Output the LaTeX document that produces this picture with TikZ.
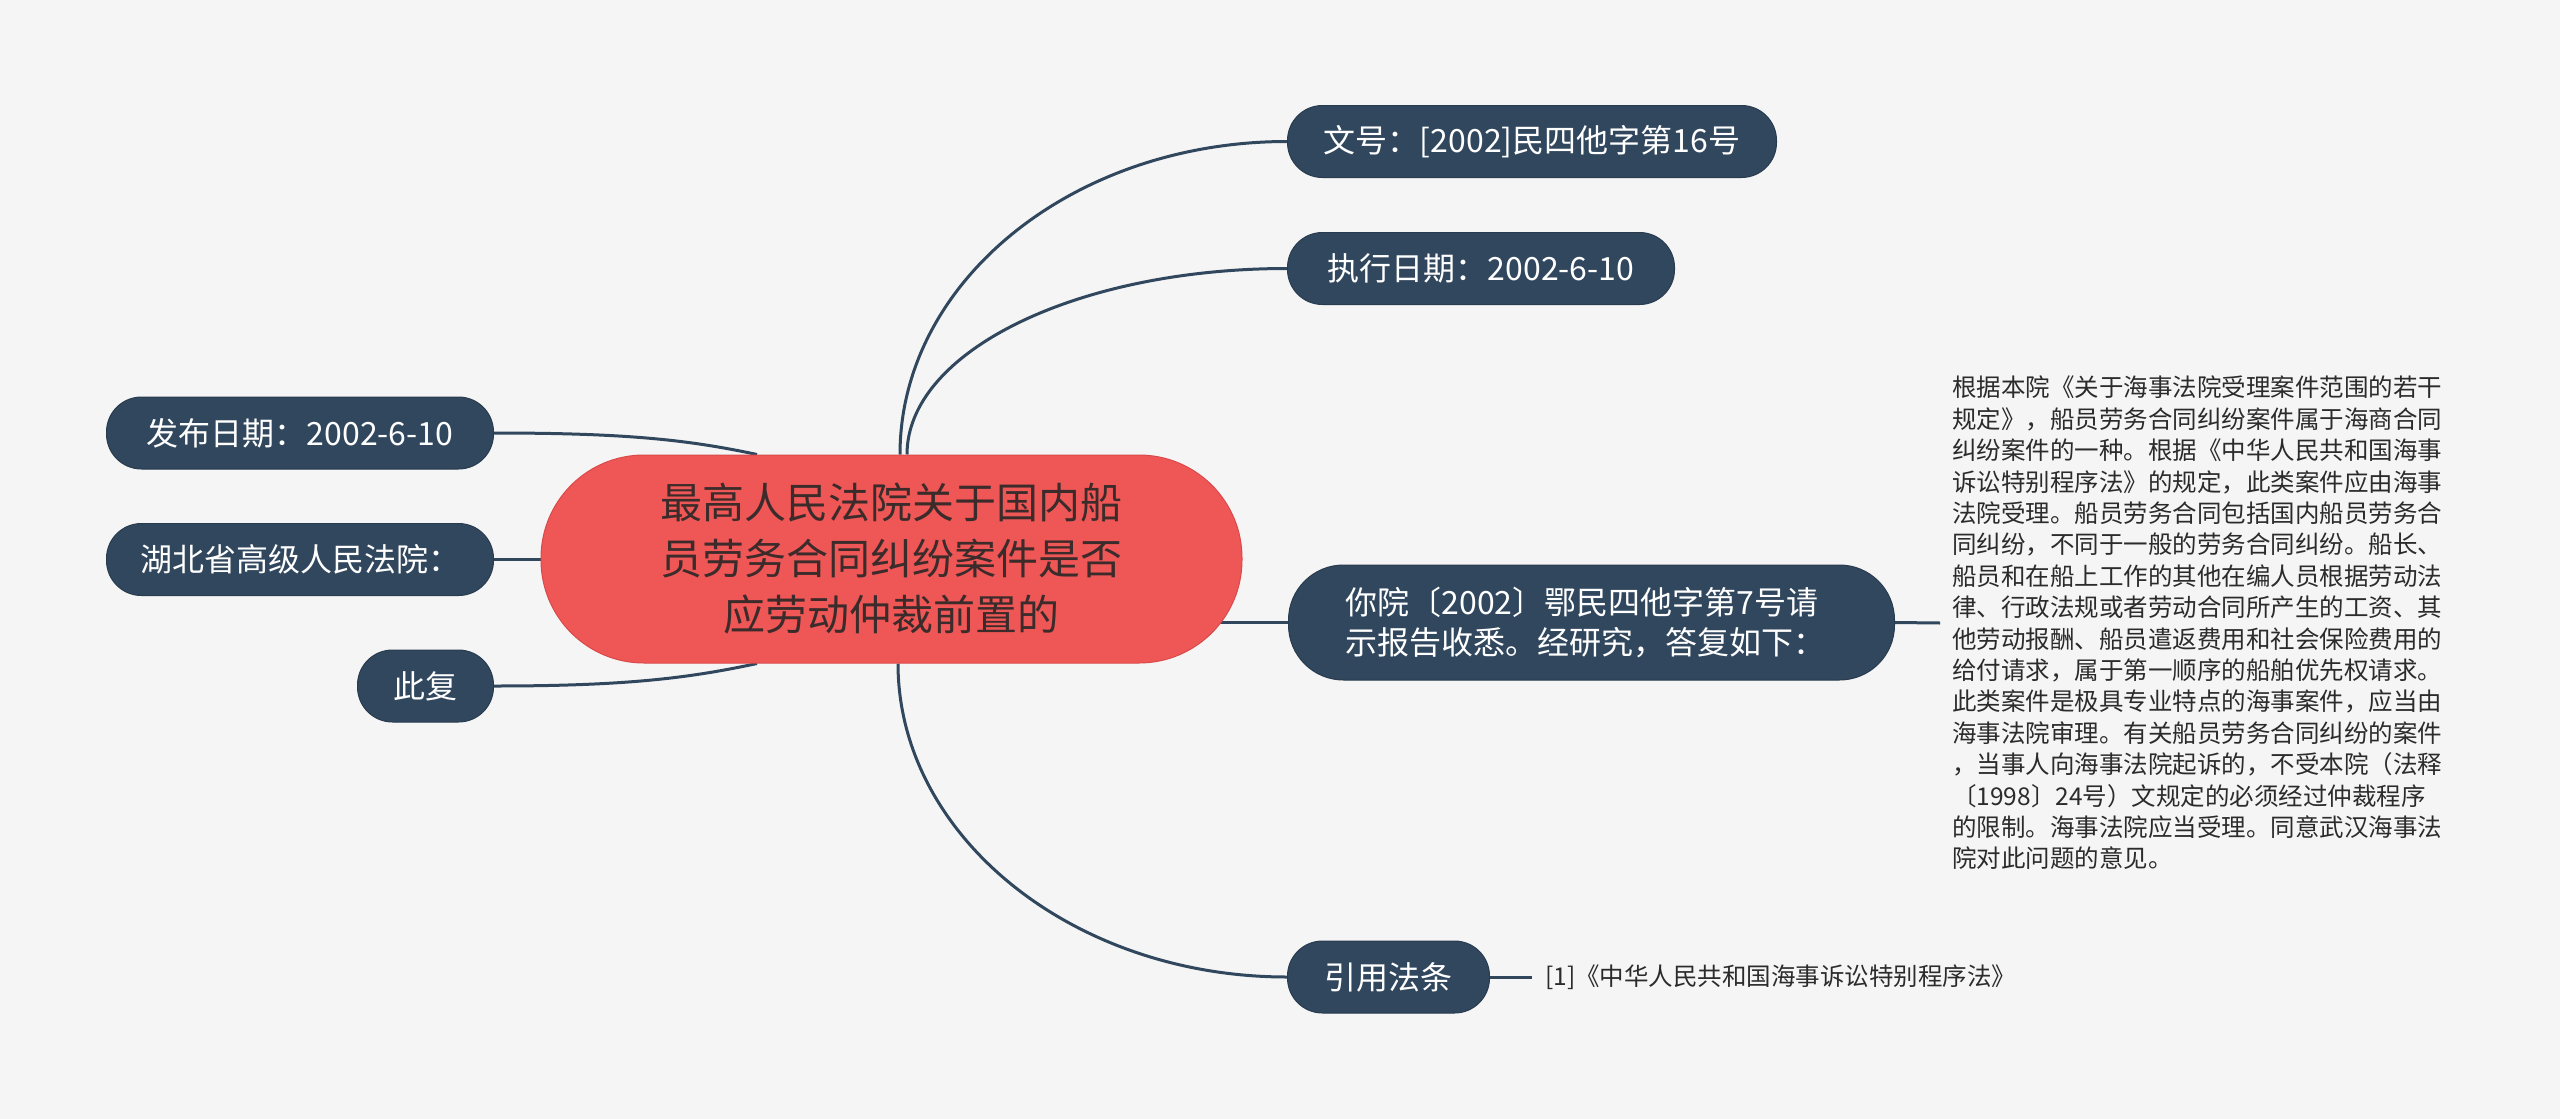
\documentclass[tikz,border=0pt]{standalone}
\usepackage{fontspec}
\setmainfont{Noto Sans CJK SC}
\usetikzlibrary{backgrounds}
\definecolor{bgc}{HTML}{F5F5F5}
\definecolor{navy}{HTML}{31475E}
\definecolor{navyb}{HTML}{283B4F}
\definecolor{rootred}{HTML}{EF5656}
\definecolor{rootb}{HTML}{D94A4A}
\definecolor{roottxt}{HTML}{3B2B2B}
\definecolor{bodytxt}{HTML}{2B2B2B}
\begin{document}
\begin{tikzpicture}[x=1pt,y=-1pt,
  leaf/.style={fill=navy, draw=navyb, line width=1pt, text=white, rounded corners=35pt,
    minimum height=72pt, inner sep=0pt, font=\fontsize{32}{40}\selectfont},
  link/.style={draw=navy, line width=3pt}]
\useasboundingbox (0,0) rectangle (2560,1119);

\node[fill=rootred, draw=rootb, line width=1pt, rounded corners=103pt, minimum width=701pt,
  minimum height=208pt, inner sep=0pt, text=roottxt, align=center,
  font=\fontsize{42}{56}\selectfont] (root) at (891.5,559)
  {最高人民法院关于国内船\\员劳务合同纠纷案件是否\\应劳动仲裁前置的};

\node[leaf, minimum width=387pt, anchor=east] (fabu) at (494,433) {发布日期：2002-6-10};
\node[leaf, minimum width=387pt, anchor=east] (hubei) at (494,559.5) {湖北省高级人民法院：};
\node[leaf, minimum width=136pt, anchor=east] (cifu) at (494,686) {此复};

\node[leaf, minimum width=489pt, anchor=west] (wenhao) at (1287,141.5) {文号：[2002]民四他字第16号};
\node[leaf, minimum width=387pt, anchor=west] (zhixing) at (1287,268.5) {执行日期：2002-6-10};
\node[leaf, minimum width=606pt, minimum height=115pt, rounded corners=55pt, anchor=west,
  align=left, text width=492pt, inner xsep=57pt] (niyuan) at (1288,622.5) {你院〔2002〕鄂民四他字第7号请\\示报告收悉。经研究，答复如下：};
\node[leaf, minimum width=202pt, anchor=west] (yinyong) at (1287,977) {引用法条};

\node[anchor=west, inner xsep=12pt, inner ysep=0pt, align=left, text=bodytxt,
  font=\fontsize{24.5}{31.4}\selectfont] (body) at (1940,623)
  {根据本院《关于海事法院受理案件范围的若干\\
   规定》，船员劳务合同纠纷案件属于海商合同\\
   纠纷案件的一种。根据《中华人民共和国海事\\
   诉讼特别程序法》的规定，此类案件应由海事\\
   法院受理。船员劳务合同包括国内船员劳务合\\
   同纠纷，不同于一般的劳务合同纠纷。船长、\\
   船员和在船上工作的其他在编人员根据劳动法\\
   律、行政法规或者劳动合同所产生的工资、其\\
   他劳动报酬、船员遣返费用和社会保险费用的\\
   给付请求，属于第一顺序的船舶优先权请求。\\
   此类案件是极具专业特点的海事案件，应当由\\
   海事法院审理。有关船员劳务合同纠纷的案件\\
   ，当事人向海事法院起诉的，不受本院（法释\\
   〔1998〕24号）文规定的必须经过仲裁程序\\
   的限制。海事法院应当受理。同意武汉海事法\\
   院对此问题的意见。};

\node[anchor=west, inner xsep=13pt, inner ysep=0pt, text=bodytxt,
  font=\fontsize{24.5}{30}\selectfont] (cite) at (1532,977) {[1]《中华人民共和国海事诉讼特别程序法》};

\begin{pgfonlayer}{background}
\fill[bgc] (0,0) rectangle (2560,1119);
\coordinate (rt1) at ([xshift=8.5pt]root.north);
\coordinate (rt2) at ([xshift=15.5pt]root.north);
\coordinate (rb) at ([xshift=6.5pt]root.south);
\coordinate (lt) at ([xshift=-134.5pt]root.north);
\coordinate (lb) at ([xshift=-134.5pt]root.south);
\draw[link] (rt1) .. controls +(0,-173) and +(-214,0) .. (wenhao.west);
\draw[link] (rt2) .. controls +(0,-103) and +(-210,0) .. (zhixing.west);
\draw[link] (rb) .. controls +(0,172) and +(-215,0) .. (yinyong.west);
\draw[link] (fabu.east) .. controls +(130,0) and +(-70,-15) .. (lt);
\draw[link] (cifu.east) .. controls +(130,0) and +(-70,15) .. (lb);
\draw[link] (hubei.east) -- (hubei.east -| root.center);
\draw[link] (niyuan.west) -- (niyuan.west -| root.center);
\draw[link] (niyuan.east) -- (body.west);
\draw[link] (yinyong.east) -- (cite.west);
\end{pgfonlayer}
\end{tikzpicture}
\end{document}
